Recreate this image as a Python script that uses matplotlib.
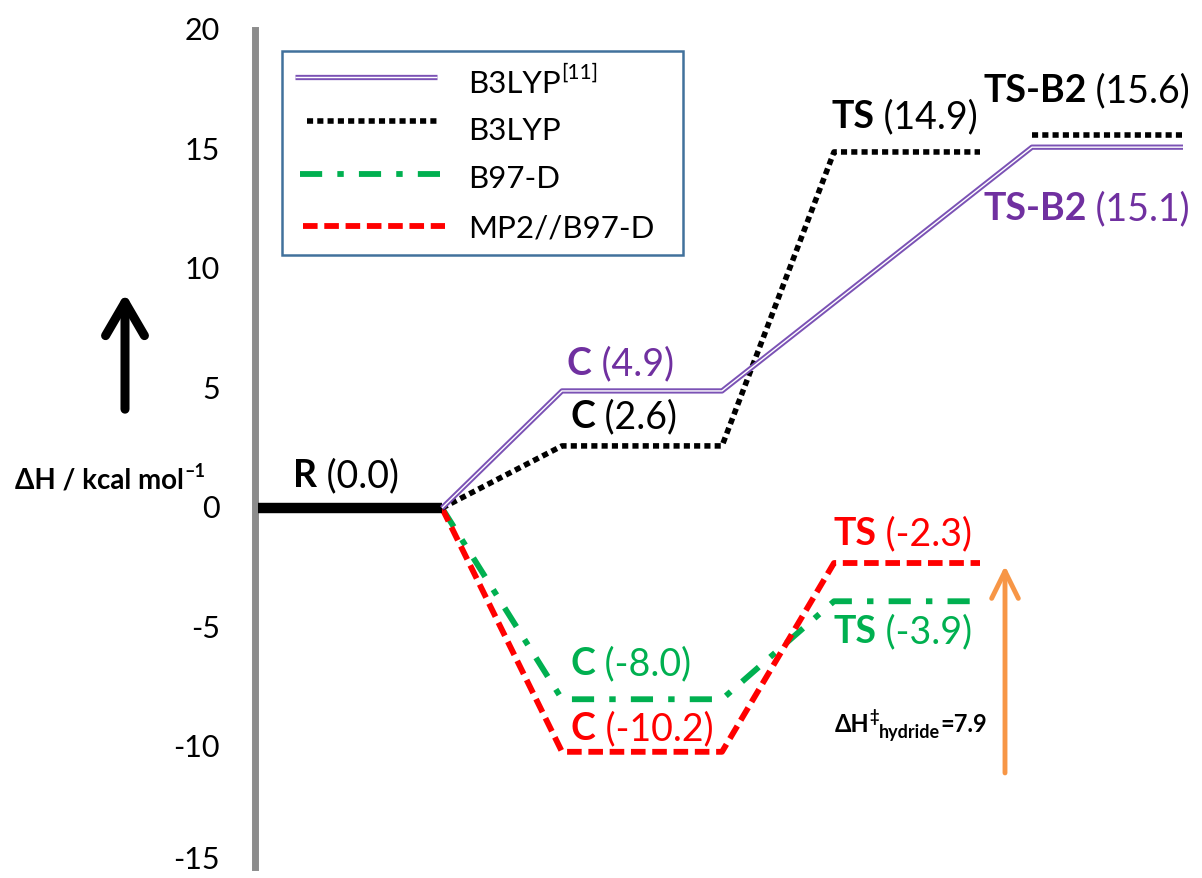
import matplotlib
matplotlib.use("Agg")
import matplotlib.pyplot as plt
import matplotlib.patheffects as pe
from matplotlib.patches import FancyArrowPatch, Rectangle
from matplotlib.transforms import offset_copy

FAMILY = ["Lato", "DejaVu Sans"]
plt.rcParams["font.family"] = FAMILY

# ---- data: enthalpies in kcal/mol -------------------------------------
stages = ["R", "C", "TS", "TS-B2"]
series_names = ["B3LYP", "[11]", "B3LYP", "B97-D", "MP2//B97-D"]
b3lyp_lit = [0.0, 4.9, None, 15.1]
b3lyp = [0.0, 2.6, 14.9, 15.6]
b97d = [0.0, -8.0, -3.9, None]
mp2 = [0.0, -10.2, -2.3, None]
hydride_barrier = round(mp2[2] - mp2[1], 1)
yticks = [-15, -10, -5, 0, 5, 10, 15, 20]
ytick_labels = ["-15", "-10", "-5", "0", "5", "10", "15", "20"]

# ---- styling ----------------------------------------------------------
PURPLE_TXT = "#7030A0"
PURPLE_LN = "#7B52B5"
GREEN = "#00B050"
RED = "#FF0000"
ORANGE = "#F79646"
AXIS_GRAY = "#8C8C8C"
FRAME_BLUE = "#41719C"

stage_x = {"R": (258, 442), "C": (562, 722), "TS": (834, 980), "TS-B2": (1032, 1183)}

fig = plt.figure(figsize=(12.02, 8.79), dpi=100)
ax = fig.add_axes([0, 0, 1, 1])
ax.set_xlim(0, 1202)
YMIN, YMAX = -15.48, 21.30
ax.set_ylim(YMIN, YMAX)
for s in ("top", "right", "bottom"):
    ax.spines[s].set_visible(False)
ax.spines["left"].set_position(("data", 255))
ax.spines["left"].set_bounds(yticks[0], yticks[-1])
ax.spines["left"].set_color(AXIS_GRAY)
ax.spines["left"].set_linewidth(5)
ax.set_xticks([])
ax.set_yticks(yticks)
ax.tick_params(axis="y", length=0, labelleft=False)

# tick labels, kept inside the canvas at the lower end
for t, lab in zip(yticks, ytick_labels):
    ax.text(220, max(t, YMIN + 0.8), lab, fontsize=22, ha="right", va="center")

renderer = fig.canvas.get_renderer()


def runs(x, y, parts, color="black"):
    """Write consecutive text runs (text, size, weight, rise_pt) on one baseline."""
    xd = x
    for text, size, weight, rise in parts:
        tr = offset_copy(ax.transData, fig=fig, x=0, y=rise, units="points")
        t = ax.text(xd, y, text, fontsize=size, fontweight=weight, color=color,
                    va="baseline", ha="left", transform=tr, family=FAMILY)
        bb = t.get_window_extent(renderer)
        xd = ax.transData.inverted().transform((bb.x1, bb.y0))[0]
    return xd


def profile(values, links=None):
    """Return polyline segments for one energy profile, starting at the end of R."""
    segs = []
    cur = [(stage_x["R"][1], values[0])]
    for i in range(1, len(values)):
        v = values[i]
        if v is None:
            continue
        x0, x1 = stage_x[stages[i]]
        if links is not None and not links[i]:
            segs.append(cur)
            cur = []
        cur += [(x0, v), (x1, v)]
    segs.append(cur)
    return segs


line_styles = {
    "lit": dict(color="white", lw=1.0, solid_capstyle="butt",
                path_effects=[pe.Stroke(linewidth=3.8, foreground=PURPLE_LN, capstyle="butt"), pe.Normal()]),
    "b3lyp": dict(color="black", lw=4.0, linestyle=(0, (1.1, 0.75))),
    "b97d": dict(color=GREEN, lw=4.2, linestyle=(0, (3.8, 2.6, 1.1, 2.6))),
    "mp2": dict(color=RED, lw=4.2, linestyle=(0, (2.5, 1.15))),
}

# reference state
ax.plot(stage_x["R"], [b3lyp[0], b3lyp[0]], color="black", lw=7.5, solid_capstyle="butt", zorder=4)

for values, key, links, z in [(b97d, "b97d", None, 3), (mp2, "mp2", None, 3.5),
                              (b3lyp, "b3lyp", [True, True, True, False], 5),
                              (b3lyp_lit, "lit", None, 6)]:
    for seg in profile(values, links):
        xs, ys = zip(*seg)
        ax.plot(xs, ys, zorder=z, **line_styles[key])

# ---- level labels -------------------------------------------------------
LS = 27
labels = [
    (293, 0.92, "R", b3lyp[0], "black"),
    (567, 5.61, "C", b3lyp_lit[1], PURPLE_TXT),
    (570, 3.39, "C", b3lyp[1], "black"),
    (831, 15.94, "TS", b3lyp[2], "black"),
    (983, 17.03, "TS-B2", b3lyp[3], "black"),
    (983, 12.09, "TS-B2", b3lyp_lit[3], PURPLE_TXT),
    (833, -1.51, "TS", mp2[2], RED),
    (833, -5.61, "TS", b97d[2], GREEN),
    (570, -6.95, "C", b97d[1], GREEN),
    (571, -9.67, "C", mp2[1], RED),
]
for x, y, name, val, col in labels:
    runs(x, y, [(name, LS, "bold", 0), (f" ({val:.1f})", LS, "normal", 0)], color=col)

# barrier annotation
runs(835, -9.33, [("\u0394H", 17, "bold", 0), ("\u2021", 12, "bold", 7),
                  ("hydride", 13, "bold", -4.5), (f"={hydride_barrier}", 17, "bold", 0)])
ax.add_patch(FancyArrowPatch((1005, mp2[1] - 1.0), (1005, mp2[2]),
                             arrowstyle="->,head_length=0.65,head_width=0.32",
                             mutation_scale=30, lw=3.5, color=ORANGE, zorder=7))

# axis title with arrow
runs(15, 0.88, [("\u0394H / kcal mol", 20, "bold", 0), ("\u20131", 13, "bold", 8)])
ax.add_patch(FancyArrowPatch((125, 4.02), (125, 9.10),
                             arrowstyle="->,head_length=0.6,head_width=0.35",
                             mutation_scale=40, lw=6.5, color="black",
                             capstyle="round", joinstyle="round", zorder=7))

# ---- legend -------------------------------------------------------------
ax.add_patch(Rectangle((282, 10.59), 401, 8.53, fill=False, edgecolor=FRAME_BLUE, lw=1.8, zorder=8))
LG = 22.5
leg_rows = [
    ("lit", (295, 437), 18.03, 17.41, [(series_names[0], LG, "normal", 0), (series_names[1], 15, "normal", 10)]),
    ("b3lyp", (307, 437), 16.19, 15.44, [(series_names[2], LG, "normal", 0)]),
    ("b97d", (300, 447), 13.97, 13.43, [(series_names[3], LG, "normal", 0)]),
    ("mp2", (303, 445), 11.80, 11.38, [(series_names[4], LG, "normal", 0)]),
]
for key, (xa, xb), ys, yt, parts in leg_rows:
    ax.plot([xa, xb], [ys, ys], zorder=9, **line_styles[key])
    runs(468, yt, parts)

fig.savefig("out.png", dpi=100)
